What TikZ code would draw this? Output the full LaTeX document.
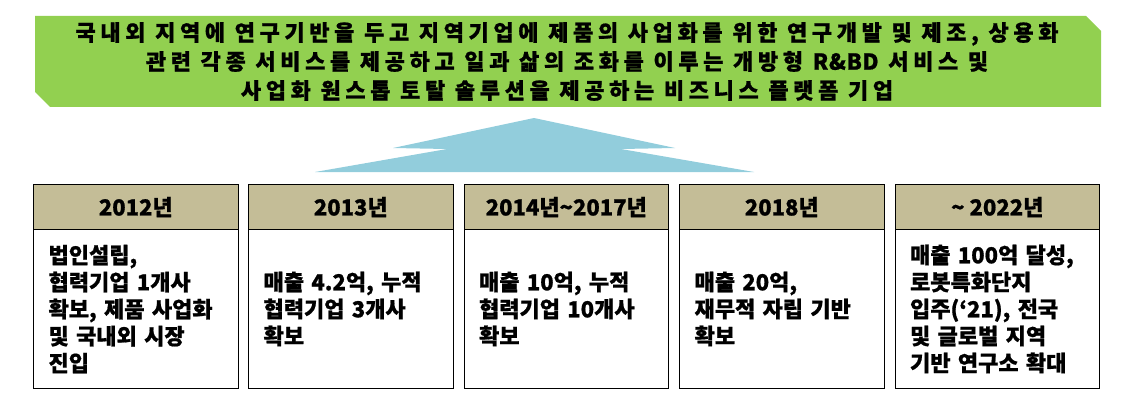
\documentclass[tikz,border=0pt]{standalone}
\usepackage{fontspec}
\setmainfont{Noto Sans CJK KR}[BoldFeatures={FakeBold=0.8}]
\newfontfamily\bannerfont{Noto Sans CJK KR}[LetterSpace=21,BoldFeatures={FakeBold=0.8}]
\definecolor{bannergreen}{RGB}{146,208,80}
\definecolor{arrowblue}{RGB}{146,205,220}
\definecolor{headtan}{RGB}{196,189,151}
\tikzset{
  bannertext/.style={align=center, inner sep=0pt, font=\bannerfont\bfseries\fontsize{22}{29}\selectfont},
  hdr/.style={draw=black, line width=1.1pt, fill=headtan, minimum width=204.5pt, minimum height=45pt, inner sep=0pt, anchor=north west, font=\bfseries\fontsize{22}{26}\selectfont},
  bodybox/.style={draw=black, line width=1.1pt, fill=white, text width=174.5pt, inner xsep=15pt, inner ysep=0pt, minimum height=159pt, anchor=north west, align=left, font=\bfseries\fontsize{22}{27}\selectfont},
}
\begin{document}
\begin{tikzpicture}[x=1pt,y=-1pt]
\useasboundingbox (0,0) rectangle (1128,412);
% banner
\fill[bannergreen] (35,16) -- (1086,16) -- (1101,31) -- (1101,107) -- (50,107) -- (35,92) -- cycle;
\node[bannertext] (banner) at (567,61.5) {국내외 지역에 연구기반을 두고 지역기업에 제품의 사업화를 위한 연구개발 및 제조, 상용화\\관련 각종 서비스를 제공하고 일과 삶의 조화를 이루는 개방형 {\addfontfeature{LetterSpace=3}R\&BD} 서비스 및\\사업화 원스톱 토탈 솔루션을 제공하는 비즈니스 플랫폼 기업};
% arrow
\fill[arrowblue] (534,118) -- (675,148) -- (621,149) -- (754,172) -- (315,172) -- (447,149) -- (393,148) -- cycle;
% boxes
\node[hdr] (h1) at (33,184) {2012년};
\node[bodybox] (b1) at (33,229) {법인설립,\\협력기업 1개사\\확보, 제품 사업화\\및 국내외 시장\\진입};
\node[hdr] (h2) at (248,184) {2013년};
\node[bodybox] (b2) at (248,229) {매출 4.2억, 누적\\협력기업 3개사\\확보};
\node[hdr] (h3) at (463.5,184) {2014년\textasciitilde 2017년};
\node[bodybox] (b3) at (463.5,229) {매출 10억, 누적\\협력기업 10개사\\확보};
\node[hdr] (h4) at (679,184) {2018년};
\node[bodybox] (b4) at (679,229) {매출 20억,\\재무적 자립 기반\\확보};
\node[hdr] (h5) at (894.5,184) {\textasciitilde{} 2022년};
\node[bodybox] (b5) at (894.5,229) {매출 100억 달성,\\로봇특화단지\\입주(‘21), 전국\\및 글로벌 지역\\기반 연구소 확대};
\end{tikzpicture}
\end{document}
